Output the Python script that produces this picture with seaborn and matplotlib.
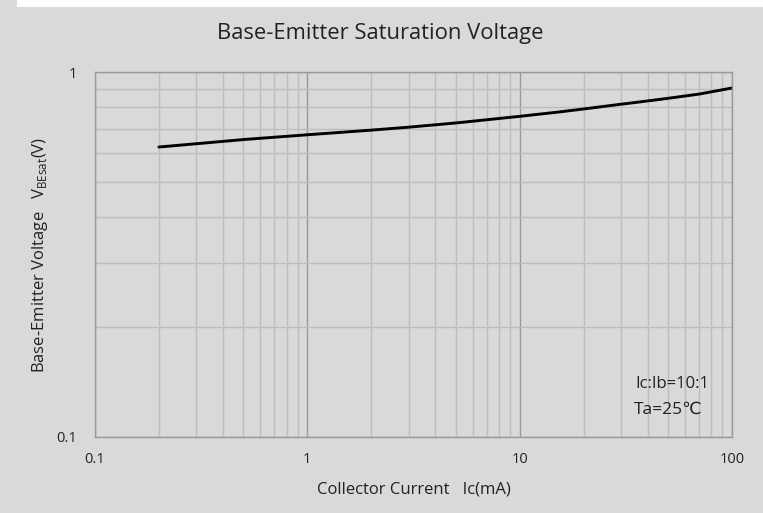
import matplotlib
matplotlib.use("Agg")
import matplotlib.pyplot as plt
import seaborn as sns
import pandas as pd
from matplotlib.ticker import FixedLocator, NullFormatter, FixedFormatter
from matplotlib.patches import Rectangle

ic_ma = [0.2, 0.3, 0.5, 1, 2, 3, 5, 10, 15, 20, 30, 40, 50, 70, 100]
vbesat = [0.623, 0.636, 0.653, 0.673, 0.693, 0.706, 0.725, 0.756, 0.776, 0.792, 0.816, 0.833, 0.847, 0.870, 0.904]
x_ticks = [0.1, 1, 10, 100]
x_tick_labels = ["0.1", "1", "10", "100"]
y_ticks = [0.1, 1]
y_tick_labels = ["0.1", "1"]

sns.set_theme(style="white")
plt.rcParams['font.family'] = ['Open Sans', 'DejaVu Sans']
plt.rcParams['mathtext.fontset'] = 'custom'
plt.rcParams['mathtext.rm'] = 'Open Sans'

bg = "#d9d9d9"
fig = plt.figure(figsize=(7.63, 5.13), dpi=100, facecolor=bg)
ax = fig.add_axes([95/763, 1-437/513, (732-95)/763, (437-72)/513])
ax.set_facecolor(bg)

df = pd.DataFrame({"Ic": ic_ma, "V": vbesat})
sns.lineplot(data=df, x="Ic", y="V", ax=ax, color="black", linewidth=2.1)

ax.set_xscale("log")
ax.set_yscale("log")
ax.set_xlim(0.1, 100)
ax.set_ylim(0.1, 1)

minor_x = [m * 10**e for e in (-1, 0, 1) for m in range(2, 10)]
minor_y = [m * 0.1 for m in range(2, 10)]
ax.xaxis.set_major_locator(FixedLocator(x_ticks))
ax.xaxis.set_major_formatter(FixedFormatter(x_tick_labels))
ax.yaxis.set_major_locator(FixedLocator(y_ticks))
ax.yaxis.set_major_formatter(FixedFormatter(y_tick_labels))
ax.xaxis.set_minor_locator(FixedLocator(minor_x))
ax.yaxis.set_minor_locator(FixedLocator(minor_y))
ax.xaxis.set_minor_formatter(NullFormatter())
ax.yaxis.set_minor_formatter(NullFormatter())

ax.grid(which="minor", color="#bdbdbd", linewidth=1.0)
ax.grid(which="major", color="#9a9a9a", linewidth=1.0)
ax.set_axisbelow(True)
for s in ax.spines.values():
    s.set_color("#9a9a9a")
    s.set_linewidth(1.0)

ax.tick_params(axis="both", which="both", length=0, labelsize=10.5, colors="#222222")
ax.tick_params(axis="x", pad=11)
ax.tick_params(axis="y", pad=13)

ax.set_xlabel("Collector Current   Ic(mA)", fontsize=12, color="#222222", labelpad=10)
ax.set_ylabel(r"Base-Emitter Voltage   V$_{\mathrm{BEsat}}$(V)", fontsize=12, color="#222222", labelpad=4.5)
fig.text(380/763, 1-33/513, "Base-Emitter Saturation Voltage", fontsize=15.8,
         color="#222222", ha="center", va="center")

ax.text(0.848, 0.145, "Ic:Ib=10:1", transform=ax.transAxes, fontsize=12, color="#222222", va="center")
ax.text(0.846, 0.075, "Ta=25℃", transform=ax.transAxes, fontsize=12.5, color="#222222", va="center")

fig.patches.append(Rectangle((17/763, 1-7/513), 1, 7/513, transform=fig.transFigure, facecolor="white", edgecolor="none"))

fig.savefig("out.png", dpi=100, facecolor=bg)
